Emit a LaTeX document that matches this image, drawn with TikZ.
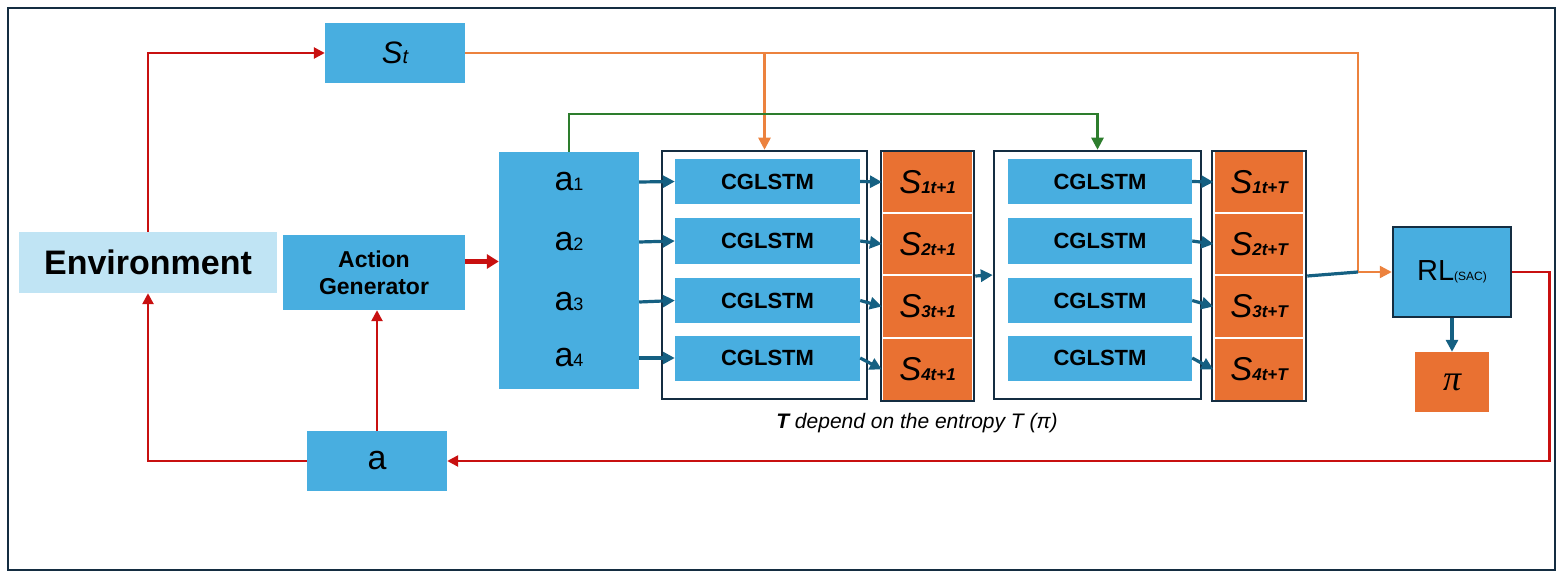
\documentclass[tikz,border=0pt]{standalone}
\usepackage{fontspec}
\setmainfont{Liberation Sans}
\newfontfamily\pifont{Liberation Serif}
\usetikzlibrary{arrows.meta}

\definecolor{boxblue}{RGB}{72,174,224}
\definecolor{envblue}{RGB}{192,228,244}
\definecolor{sorange}{RGB}{233,113,50}
\definecolor{frameblue}{RGB}{20,45,65}
\definecolor{linkblue}{RGB}{21,96,130}
\definecolor{loopred}{RGB}{200,16,16}
\definecolor{skipgreen}{RGB}{45,125,45}
\definecolor{feedorange}{RGB}{236,130,62}

\tikzstyle{block}=[rectangle,fill=boxblue,inner sep=0pt]
\tikzstyle{cglstm}=[block,minimum width=185pt,minimum height=45pt,font=\fontsize{22}{24}\selectfont\bfseries]
\tikzstyle{lstmframe}=[rectangle,draw=frameblue,line width=2.5pt,minimum width=205pt,minimum height=248pt]
\tikzstyle{scell}=[rectangle,fill=sorange,draw=white,line width=1.2pt,minimum width=90pt,minimum height=62pt,inner sep=0pt]
\tikzstyle{stack}=[rectangle,draw=frameblue,line width=2.5pt,minimum width=93pt,minimum height=250pt]
\tikzstyle{redloop}=[loopred,line width=2.5pt,-{Triangle[length=11pt,width=11pt]}]
\tikzstyle{link}=[linkblue,line width=3.2pt,-{Triangle[length=12pt,width=12pt]}]
\tikzstyle{feed}=[feedorange,line width=2.5pt,-{Triangle[length=12pt,width=12pt]}]
\tikzstyle{greenskip}=[skipgreen,line width=2.5pt,-{Triangle[length=12pt,width=12pt]}]

\newcommand{\Slab}[1]{{\fontsize{33}{36}\selectfont\itshape S}{\fontsize{17}{18}\selectfont\itshape\bfseries #1}}
\newcommand{\alab}[1]{{\fontsize{34}{36}\selectfont a}{\fontsize{18}{20}\selectfont #1}}

\begin{document}
\begin{tikzpicture}[x=1pt,y=-1pt]
  \useasboundingbox (0,0) rectangle (1563,580);
  \draw[frameblue,line width=2.5pt] (8,8) rectangle (1555,570);

  \node[rectangle,fill=envblue,minimum width=258pt,minimum height=61pt,
    font=\fontsize{34}{36}\selectfont\bfseries] (env) at (148,262.5) {Environment};
  \node[block,minimum width=140pt,minimum height=60pt] (st) at (395,53)
    {{\fontsize{31}{34}\selectfont\itshape S}{\fontsize{20}{22}\selectfont\itshape t}};
  \node[block,minimum width=182pt,minimum height=75pt,align=center,
    font=\fontsize{23}{27}\selectfont\bfseries] (ag) at (374,272.5) {Action\\Generator};
  \node[block,minimum width=140pt,minimum height=60pt,
    font=\fontsize{34}{36}\selectfont] (act) at (377,461) {a};

  % action samples
  \node[block,minimum width=140pt,minimum height=237pt] (acts) at (569,270.5) {};
  \foreach \i/\y in {1/182,2/242,3/302,4/358}
    \node[minimum width=140pt,inner sep=0pt] (a\i) at (569,\y) {\alab{\i}};

  % the two CGLSTM steps
  \node[lstmframe] (frame1) at (764.5,275) {};
  \node[lstmframe,minimum width=207pt] (frame2) at (1097.5,275) {};
  \foreach \i/\y in {1/181.5,2/241,3/300.5,4/358} {
    \node[cglstm] (c1\i) at (767.5,\y) {CGLSTM};
    \node[cglstm,minimum width=184pt] (c2\i) at (1100,\y) {CGLSTM};
  }
  \foreach \i/\y in {1/182,2/244,3/306.5,4/369.5} {
    \node[scell] (s1\i) at (927.5,\y) {\Slab{\i t+1}};
    \node[scell] (s2\i) at (1259,\y) {\Slab{\i t+T}};
  }
  \node[stack] (stack1) at (927.5,276) {};
  \node[stack,minimum width=94pt] (stack2) at (1259,276) {};

  \node[block,draw=frameblue,line width=2.5pt,minimum width=118pt,minimum height=90pt] (rl)
    at (1452,272) {{\fontsize{29}{30}\selectfont RL}{\fontsize{12}{12}\selectfont(SAC)}};
  \node[rectangle,fill=sorange,minimum width=74pt,minimum height=60pt] (pol) at (1452,382)
    {\pifont\itshape\fontsize{36}{36}\selectfont π};

  \node[font=\fontsize{21}{24}\selectfont\itshape] (note) at (917,423)
    {\textbf{T} depend on the entropy T (π)};

  \coordinate (join) at (1358,272);
  \coordinate (agout) at ([yshift=11pt]ag.east);

  % red loop
  \draw[redloop] (env.north) |- (st.west);
  \draw[redloop] (act.west) -| (env.south);
  \draw[redloop] (act.north) -- (act.north |- ag.south);
  \draw[redloop] (rl.east) -- ++(37,0) |- (act.east);
  \draw[loopred,line width=5pt,-{Triangle[length=12pt,width=14pt]}] (agout) -- (agout -| acts.west);

  \draw[feed] (st.east) -| (join) -- (rl.west);
  \draw[feed] (st.east -| frame1.north) -- (frame1.north);
  \draw[linkblue,line width=3.2pt] (stack2.east) -- (join);
  \draw[greenskip] (acts.north) -- ++(0,-38) -| (frame2.north);

  \foreach \i in {1,...,4} {
    \draw[link] (a\i.east) -- (c1\i.west);
    \draw[link] (c1\i.east) -- (s1\i.west);
    \draw[link] (c2\i.east) -- (s2\i.west);
  }
  \draw[link] (stack1.east) -- (frame2.west);
  \draw[link] (rl.south) -- (pol.north);
\end{tikzpicture}
\end{document}
